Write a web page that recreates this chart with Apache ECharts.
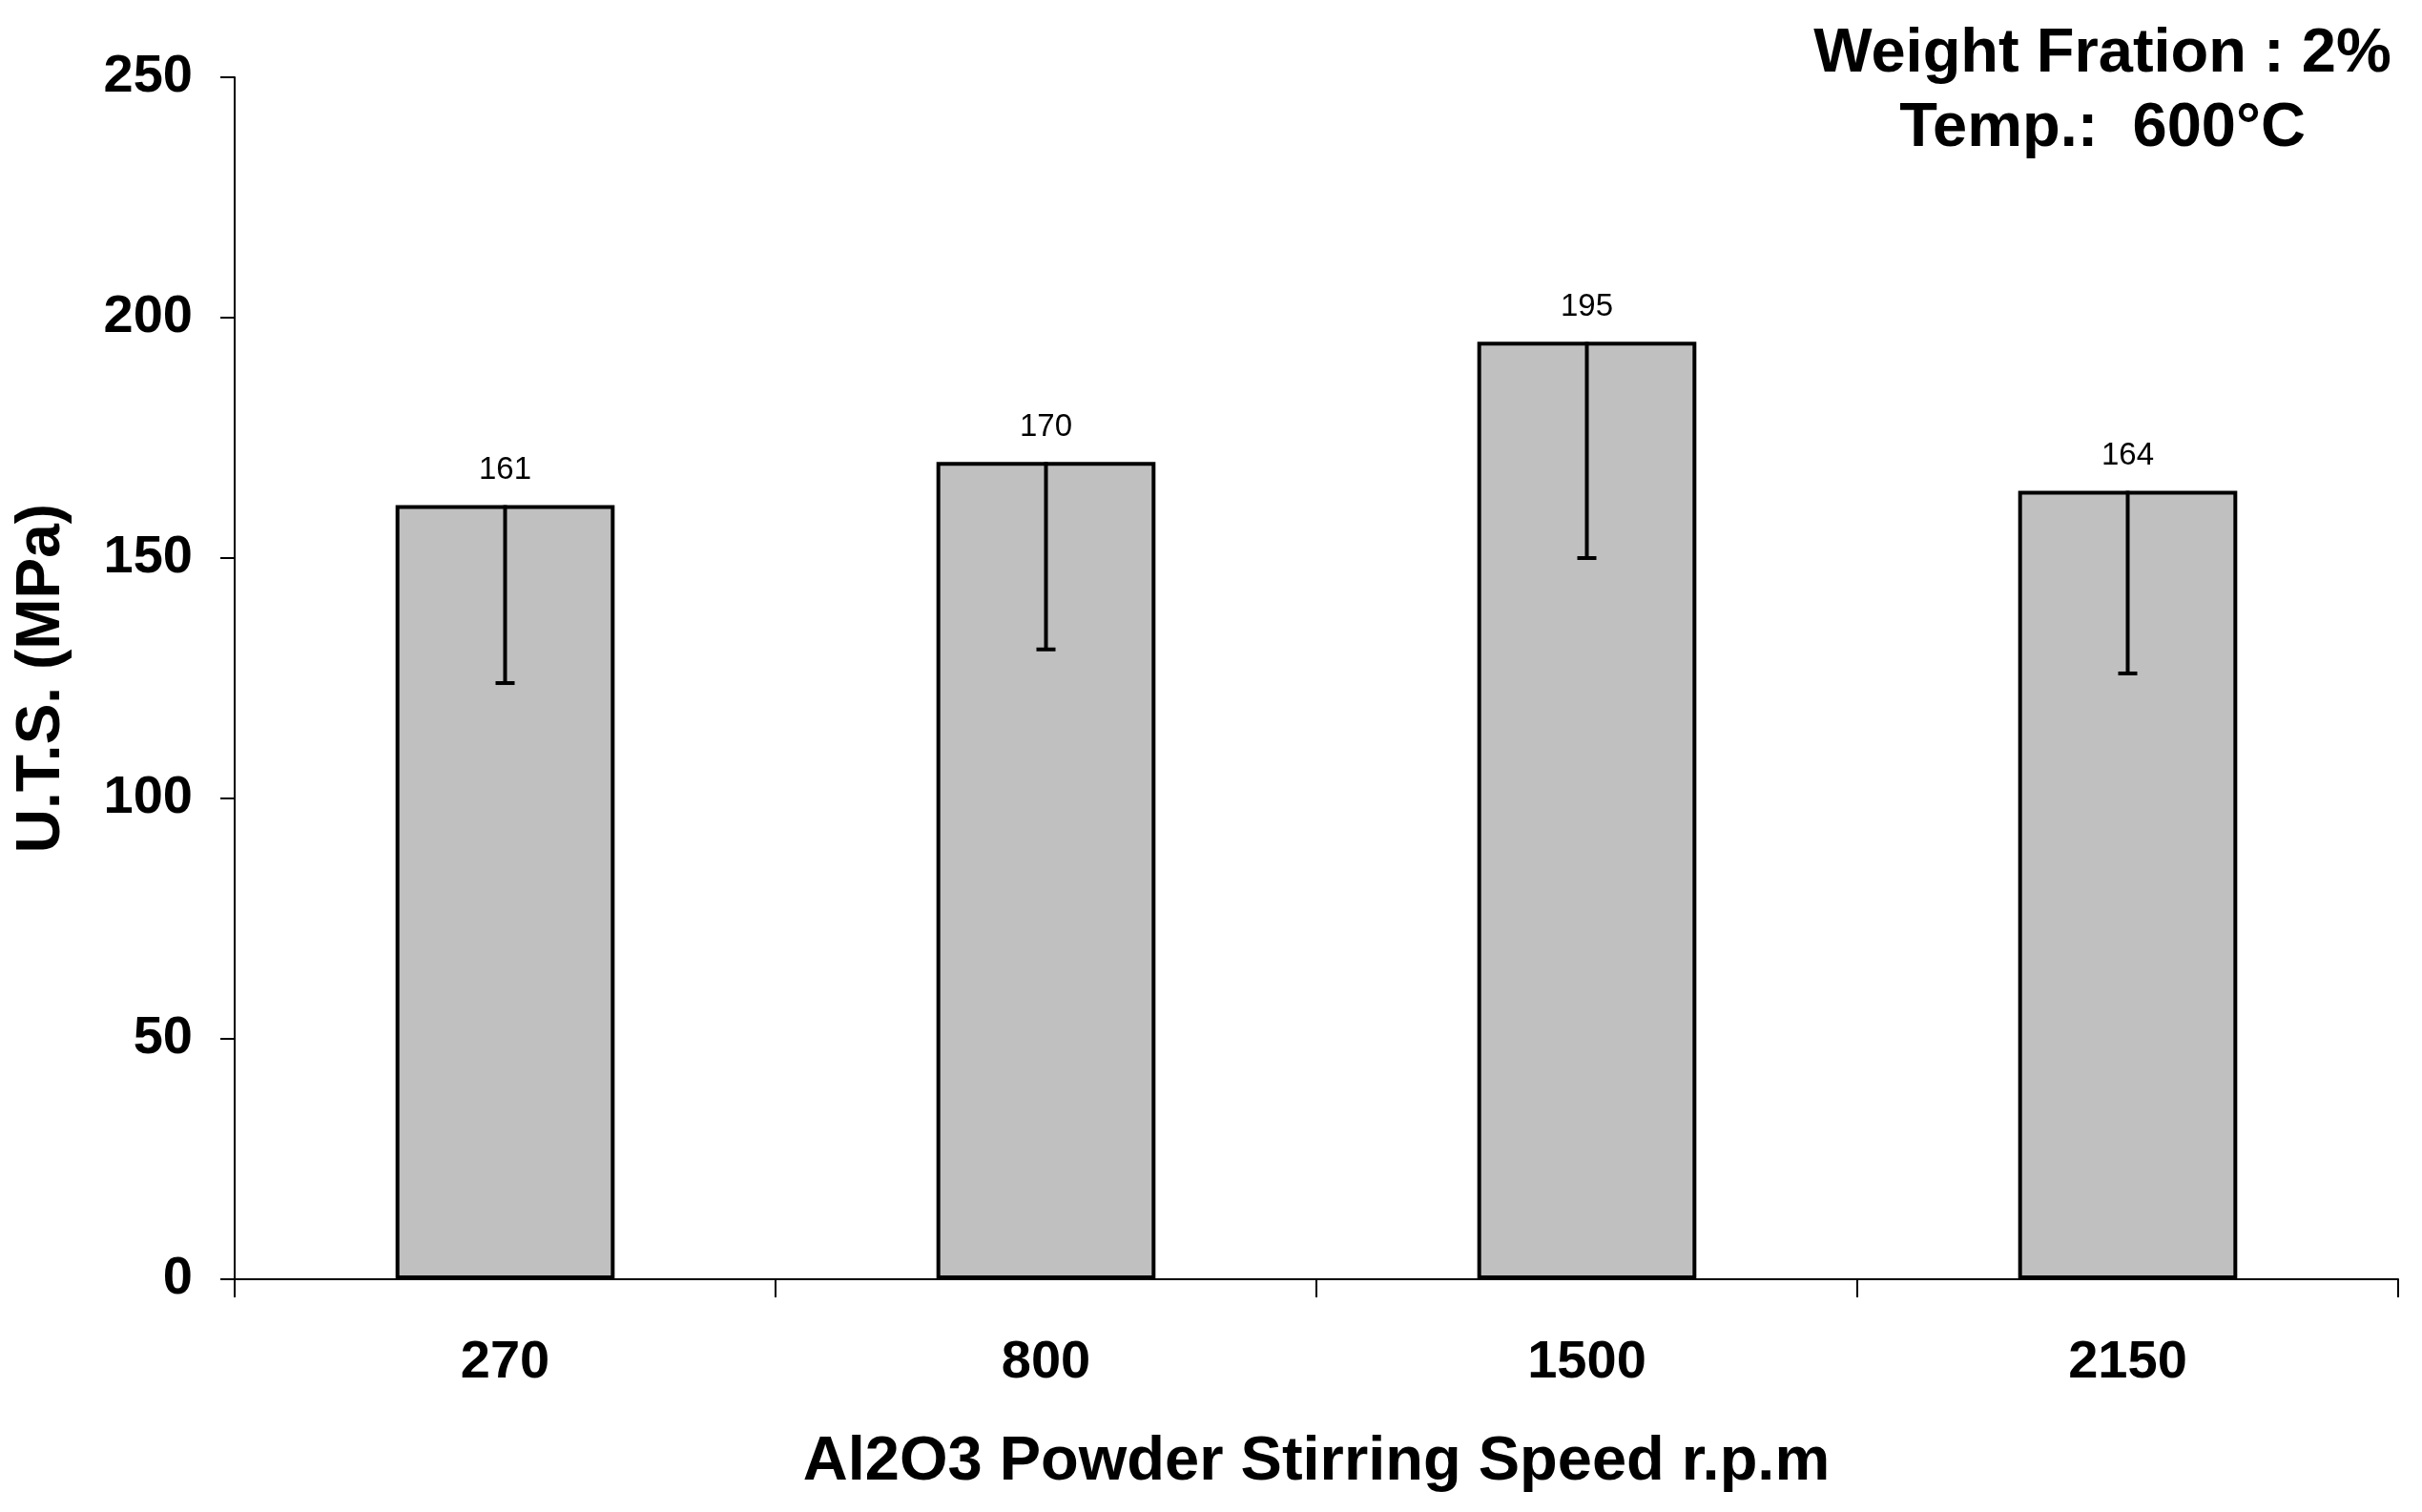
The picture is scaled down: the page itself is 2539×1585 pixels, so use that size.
<!DOCTYPE html>
<html>
<head>
<meta charset="utf-8">
<script src="https://cdn.jsdelivr.net/npm/echarts@6/dist/echarts.min.js"></script>
<style>
html,body{margin:0;padding:0;background:#fff;}
#main{width:2539px;height:1585px;}
</style>
</head>
<body>
<div id="main"></div>
<script>
const categories = ['270', '800', '1500', '2150'];
const utsValues = [161, 170, 195, 164];
const errorLower = [124, 131, 150, 126];
const yTicks = [0, 50, 100, 150, 200, 250];
const xAxisTitle = 'Al2O3 Powder Stirring Speed r.p.m';
const yAxisTitle = 'U.T.S. (MPa)';
const noteLines = ['Weight Fration : 2%', 'Temp.:  600°C'];

const FONT = '"Liberation Sans", Arial, sans-serif';
const chart = echarts.init(document.getElementById('main'), null, {renderer: 'canvas'});

const errData = categories.map((c, i) => [i, utsValues[i], errorLower[i]]);

chart.setOption({
  animation: false,
  backgroundColor: '#ffffff',
  grid: {left: 246, right: 25, top: 81, bottom: 244, containLabel: false},
  xAxis: {
    type: 'category',
    data: categories,
    boundaryGap: true,
    axisLine: {show: true, lineStyle: {color: '#000', width: 2}},
    axisTick: {show: true, alignWithLabel: false, length: 19, inside: false, lineStyle: {color: '#000', width: 2}},
    axisLabel: {fontFamily: FONT, fontWeight: 'bold', fontSize: 56, color: '#000', margin: 60},
    name: xAxisTitle,
    nameLocation: 'middle',
    nameGap: 160,
    nameTextStyle: {fontFamily: FONT, fontWeight: 'bold', fontSize: 65, color: '#000'},
    splitLine: {show: false}
  },
  yAxis: {
    type: 'value',
    min: yTicks[0],
    max: yTicks[yTicks.length - 1],
    interval: 50,
    axisLine: {show: true, lineStyle: {color: '#000', width: 2}},
    axisTick: {show: true, length: 15, lineStyle: {color: '#000', width: 2}},
    axisLabel: {fontFamily: FONT, fontWeight: 'bold', fontSize: 56, color: '#000', margin: 44},
    splitLine: {show: false},
    name: yAxisTitle,
    nameLocation: 'middle',
    nameGap: 170,
    nameTextStyle: {fontFamily: FONT, fontWeight: 'bold', fontSize: 64, color: '#000'}
  },
  series: [
    {
      type: 'bar',
      data: utsValues,
      barWidth: '40.5%',
      itemStyle: {color: '#C0C0C0', borderColor: '#000', borderWidth: 4},
      label: {show: true, position: 'top', distance: 20, fontFamily: FONT, fontSize: 33, color: '#000'},
      z: 2
    },
    {
      type: 'custom',
      data: errData,
      z: 5,
      renderItem: function (params, api) {
        const x = api.value(0);
        const top = api.coord([x, api.value(1)]);
        const bot = api.coord([x, api.value(2)]);
        const capHalf = 10;
        const st = {stroke: '#000', lineWidth: 4};
        return {
          type: 'group',
          children: [
            {type: 'line', shape: {x1: top[0], y1: top[1], x2: bot[0], y2: bot[1]}, style: st},
            {type: 'line', shape: {x1: bot[0] - capHalf, y1: bot[1], x2: bot[0] + capHalf, y2: bot[1]}, style: st}
          ]
        };
      }
    }
  ],
  graphic: [
    {
      type: 'text',
      left: 2204 - 320,
      top: 18,
      style: {
        text: noteLines.join('\n'),
        width: 640,
        align: 'center',
        textAlign: 'center',
        x: 320,
        font: 'bold 65px ' + FONT,
        fill: '#000',
        lineHeight: 78
      }
    }
  ]
});
</script>
</body>
</html>
